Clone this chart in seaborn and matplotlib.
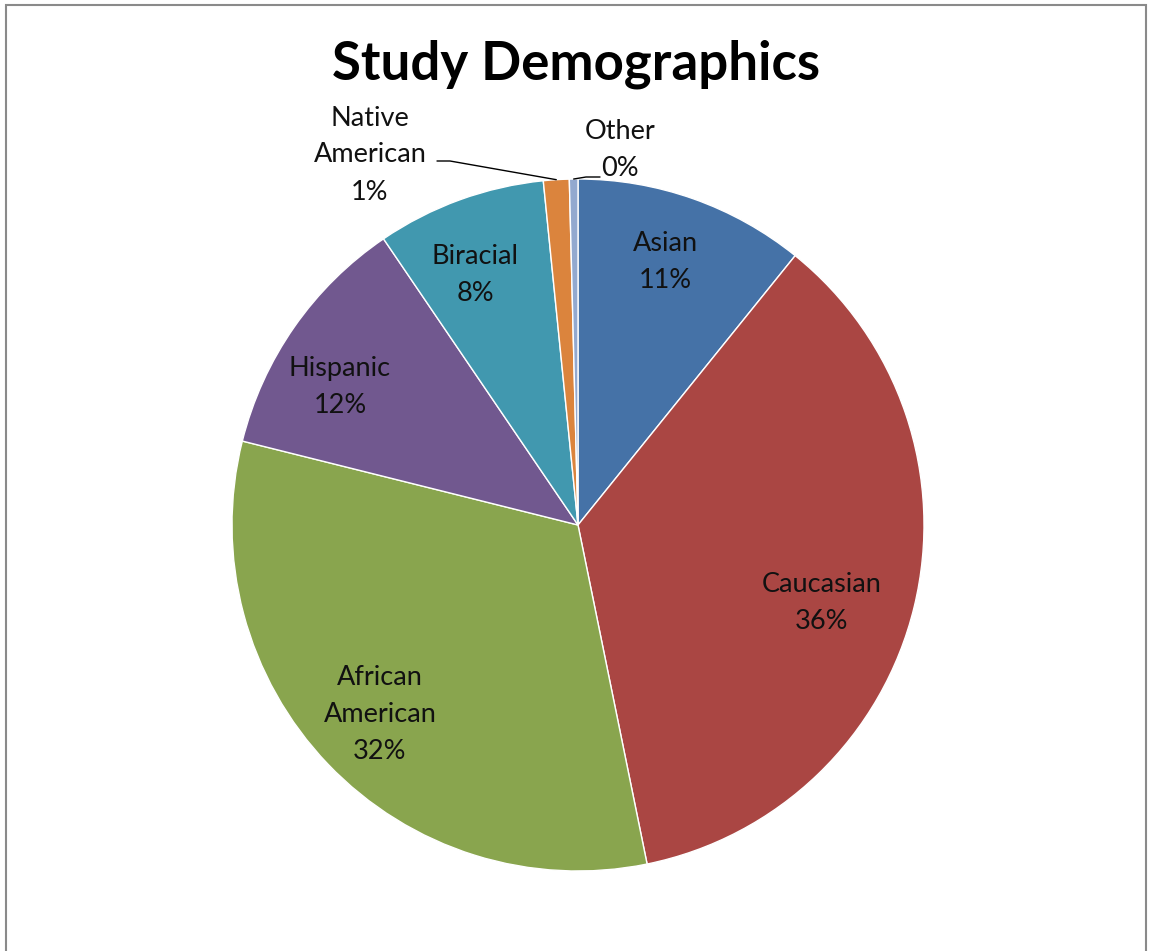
import numpy as np
import matplotlib
matplotlib.use("Agg")
import matplotlib.pyplot as plt
import seaborn as sns
from matplotlib.patches import Rectangle

# Study sample composition (percent of participants)
groups = ["Asian", "Caucasian", "African\nAmerican", "Hispanic", "Biracial",
          "Native\nAmerican", "Other"]
shares = [10.8, 36.0, 32.1, 11.6, 7.9, 1.2, 0.4]
slice_colors = ["#4572A7", "#AA4643", "#89A54E", "#71588F", "#4198AF",
                "#DB843D", "#93A9CF"]
# label anchor points (pixels from top-left) for each slice's data label
label_px = [(665, 262), (822, 603), (380, 715), (340, 387), (475, 275),
            (370, 155), (620, 150)]

sns.set_theme(style="white")
plt.rcParams["font.family"] = ["Lato", "DejaVu Sans"]

W, H, DPI = 1150, 951, 100
fig = plt.figure(figsize=(W / DPI, H / DPI), dpi=DPI)
fig.patch.set_facecolor("white")

# pie centre and radius in pixels; axes spans whole figure in radius units
cx, cy, R = 578, 525, 346
ax = fig.add_axes([0, 0, 1, 1])

palette = sns.color_palette(slice_colors)
wedges, _ = ax.pie(shares, colors=palette, startangle=90, counterclock=False,
                   radius=1.0, center=(0, 0),
                   wedgeprops=dict(edgecolor="white", linewidth=1.0))

ax.set_xlim(-cx / R, (W - cx) / R)
ax.set_ylim(-(H - cy) / R, cy / R)
ax.set_aspect("equal")
ax.axis("off")


def px(x, y):
    return ((x - cx) / R, (cy - y) / R)


total = sum(shares)
label_fs = 19.5
for name, val, (lx, ly) in zip(groups, shares, label_px):
    x, y = px(lx, ly)
    ax.text(x, y, f"{name}\n{val / total * 100:.0f}%", ha="center",
            va="center", fontsize=label_fs, color="#111111", linespacing=1.6)

# leader lines for the thin slices
native, other = wedges[5], wedges[6]
nm = np.deg2rad((native.theta1 + native.theta2) / 2)
om = np.deg2rad((other.theta1 + other.theta2) / 2)

p0 = px(437, 161); p1 = px(450, 161)
ax.plot([p0[0], p1[0], np.cos(nm)], [p0[1], p1[1], np.sin(nm)],
        color="black", lw=1.0)
q0 = px(600, 177); q1 = px(586, 177)
ax.plot([q0[0], q1[0], np.cos(om)], [q0[1], q1[1], np.sin(om)],
        color="black", lw=1.0)

# title
t = px(576, 64)
ax.text(t[0], t[1], "Study Demographics", ha="center", va="center",
        fontsize=38, fontweight="bold", color="black")

# chart area frame
fig.patches.append(Rectangle((6 / W, -0.01), 1140 / W, 1 - 5 / H + 0.01,
                             transform=fig.transFigure, fill=False,
                             edgecolor="#8a8a8a", linewidth=1.5))

fig.savefig("out.png", dpi=DPI)
